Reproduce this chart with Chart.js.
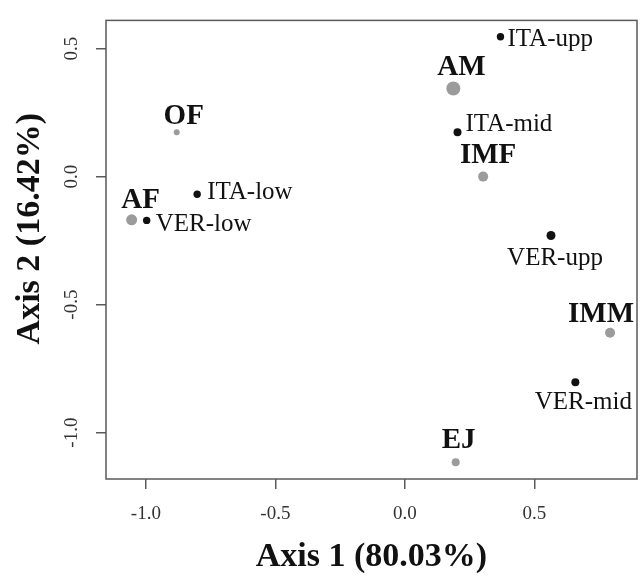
<!DOCTYPE html>
<html>
<head>
<meta charset="utf-8">
<script src="https://cdn.jsdelivr.net/npm/chart.js@4.4.0/dist/chart.umd.min.js"></script>
<style>
  body { margin: 0; background: #fff; }
  #wrap { width: 644px; height: 579px; }
</style>
</head>
<body>
<div id="wrap"><canvas id="pcoa"></canvas></div>
<script>
// group centroids (grey) and sites (black)
const groups = ['AF', 'AM', 'EJ', 'IMF', 'IMM', 'OF'];
const groupAxis1 = [-1.055, 0.187, 0.196, 0.302, 0.792, -0.881];
const groupAxis2 = [-0.169, 0.344, -1.116, 0.0, -0.610, 0.173];

const sites = ['ITA-low', 'ITA-mid', 'ITA-upp', 'VER-low', 'VER-mid', 'VER-upp'];
const siteAxis1 = [-0.802, 0.203, 0.369, -0.997, 0.658, 0.564];
const siteAxis2 = [-0.069, 0.173, 0.546, -0.171, -0.803, -0.230];

const xTicks = [-1.0, -0.5, 0.0, 0.5];
const yTicks = [-1.0, -0.5, 0.0, 0.5];

const xTitle = 'Axis 1 (80.03%)';
const yTitle = 'Axis 2 (16.42%)';

// styling
const serif = "'Liberation Serif', 'Times New Roman', serif";
const groupRadius = [5.5, 7, 4, 5, 5, 3];
const siteRadius = [3.7, 4, 3.7, 3.7, 4, 4.5];
// label offset from the dot: [dx, dy, textAlign]
const labelOffsets = {
    'AF': [9, -19, 'center'],
    'AM': [8, -21, 'center'],
    'EJ': [3, -22, 'center'],
    'IMF': [5, -21, 'center'],
    'IMM': [-9, -18, 'center'],
    'OF': [7, -16, 'center'],
    'ITA-low': [10, -2, 'left'],
    'ITA-mid': [8, -8, 'left'],
    'ITA-upp': [7, 3, 'left'],
    'VER-low': [9, 4, 'left'],
    'VER-mid': [8, 20, 'center'],
    'VER-upp': [4, 23, 'center'],
};

const framePlugin = {
    id: 'frame',
    afterDraw(chart) {
        const { ctx, chartArea: a } = chart;
        ctx.save();
        ctx.strokeStyle = '#5a5a5a';
        ctx.lineWidth = 1.5;
        ctx.strokeRect(a.left, a.top, a.right - a.left, a.bottom - a.top);
        // y axis title, sits a little above the plot's middle like the original
        ctx.translate(30, (a.top + a.bottom) / 2 - 21);
        ctx.rotate(-Math.PI / 2);
        ctx.font = 'bold 34px ' + serif;
        ctx.fillStyle = '#111';
        ctx.textAlign = 'center';
        ctx.textBaseline = 'middle';
        ctx.fillText(yTitle, 0, 0);
        ctx.restore();
    }
};

const labelPlugin = {
    id: 'pointLabels',
    afterDatasetsDraw(chart) {
        const { ctx } = chart;
        const xs = chart.scales.x, ys = chart.scales.y;
        ctx.save();
        ctx.fillStyle = '#111';
        ctx.textBaseline = 'middle';
        const put = (names, ax1, ax2, font) => {
            ctx.font = font;
            names.forEach((n, i) => {
                const [dx, dy, align] = labelOffsets[n];
                ctx.textAlign = align;
                ctx.fillText(n, xs.getPixelForValue(ax1[i]) + dx, ys.getPixelForValue(ax2[i]) + dy);
            });
        };
        put(groups, groupAxis1, groupAxis2, 'bold 29px ' + serif);
        put(sites, siteAxis1, siteAxis2, '25px ' + serif);
        ctx.restore();
    }
};

const tickFont = { family: serif, size: 19 };
const titleFont = { family: serif, size: 34, weight: 'bold', lineHeight: 1 };

new Chart(document.getElementById('pcoa'), {
    type: 'scatter',
    data: {
        datasets: [{
            label: 'groups',
            data: groups.map((g, i) => ({ x: groupAxis1[i], y: groupAxis2[i] })),
            backgroundColor: '#9b9b9b',
            borderWidth: 0,
            pointRadius: groupRadius,
            pointHoverRadius: groupRadius,
        }, {
            label: 'sites',
            data: sites.map((s, i) => ({ x: siteAxis1[i], y: siteAxis2[i] })),
            backgroundColor: '#111',
            borderWidth: 0,
            pointRadius: siteRadius,
            pointHoverRadius: siteRadius,
        }]
    },
    options: {
        responsive: true,
        maintainAspectRatio: false,
        animation: false,
        layout: { padding: { top: 15, right: 7, left: 0, bottom: 0 } },
        plugins: {
            legend: { display: false },
            tooltip: { enabled: false },
        },
        scales: {
            x: {
                type: 'linear',
                min: -1.154,
                max: 0.896,
                afterBuildTicks: s => { s.ticks = xTicks.map(v => ({ value: v })); },
                afterFit: s => { s.height = 100; },
                border: { display: false },
                grid: { drawOnChartArea: false, drawTicks: true, tickLength: 10, color: '#5a5a5a', lineWidth: 1.5 },
                ticks: { font: tickFont, color: '#333', padding: 14, maxRotation: 0, callback: v => v.toFixed(1) },
                title: { display: true, text: xTitle, font: titleFont, color: '#111', padding: { top: 0, bottom: 5 } },
            },
            y: {
                type: 'linear',
                min: -1.181,
                max: 0.610,
                afterBuildTicks: s => { s.ticks = yTicks.map(v => ({ value: v })); },
                afterFit: s => { s.width = 106; },
                border: { display: false },
                grid: { drawOnChartArea: false, drawTicks: true, tickLength: 10, color: '#5a5a5a', lineWidth: 1.5 },
                ticks: { font: tickFont, color: '#333', padding: 9, minRotation: 90, maxRotation: 90, crossAlign: 'center', callback: v => v.toFixed(1) },
                title: { display: false },
            }
        }
    },
    plugins: [framePlugin, labelPlugin]
});
</script>
</body>
</html>
